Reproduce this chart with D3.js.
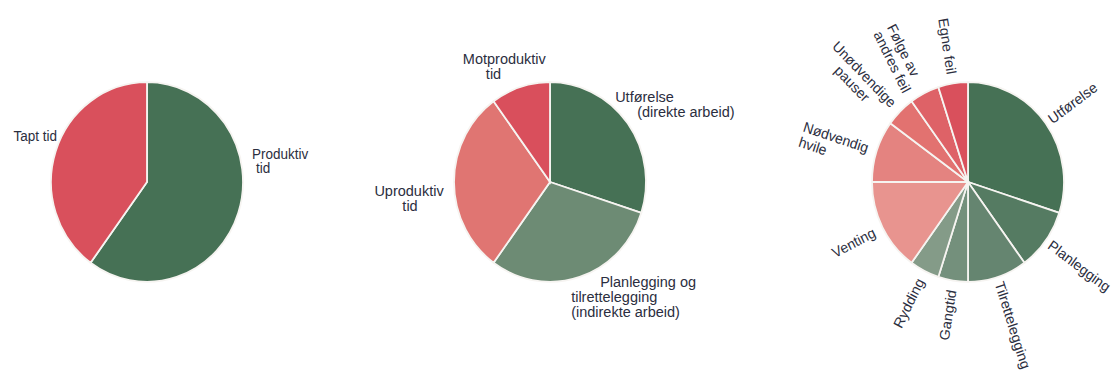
<!DOCTYPE html>
<html>
<head>
<meta charset="utf-8">
<script src="https://cdn.jsdelivr.net/npm/d3@7"></script>
<style>
body { margin: 0; background: #fff; }
text { font-family: "Liberation Sans", Arial, Helvetica, sans-serif; fill: #2b2e40; }
</style>
</head>
<body>
<svg id="chart" width="1113" height="382"></svg>
<script>
// chart 1: produktiv vs tapt tid
const tidCategories = ["Produktiv tid", "Tapt tid"];
const tidValues = [60, 40];
const tidLines = [["Produktiv", "tid"], ["Tapt tid"]];
const tidColors = ["#467155", "#d9505c"];

// chart 2: fire typer tid
const typeCategories = ["Utførelse (direkte arbeid)", "Planlegging og tilrettelegging (indirekte arbeid)", "Uproduktiv tid", "Motproduktiv tid"];
const typeValues = [30, 30, 30, 10];
const typeLines = [["Utførelse", "(direkte arbeid)"], ["Planlegging og", "tilrettelegging", "(indirekte arbeid)"], ["Uproduktiv", "tid"], ["Motproduktiv", "tid"]];
const typeColors = ["#467155", "#6d8b74", "#e07572", "#d94f5c"];

// chart 3: detaljert fordeling
const detailCategories = ["Utførelse", "Planlegging", "Tilrettelegging", "Gangtid", "Rydding", "Venting", "Nødvendig hvile", "Unødvendige pauser", "Følge av andres feil", "Egne feil"];
const detailValues = [30, 10, 10, 5, 5, 15, 10, 5, 5, 5];
const detailLines = [["Utførelse"], ["Planlegging"], ["Tilrettelegging"], ["Gangtid"], ["Rydding"], ["Venting"], ["Nødvendig", "hvile"], ["Unødvendige", "pauser"], ["Følge av", "andres feil"], ["Egne feil"]];
const detailColors = ["#467155", "#557b62", "#658570", "#74907c", "#849b88", "#e8948f", "#e48380", "#e27270", "#de6267", "#d9505c"];

const svg = d3.select("#chart");
const radius = 96, ky = 1.04;   // pies are a bit taller than wide in the original

const pie = d3.pie().sort(null).value(d => d);
const arc = d3.arc().innerRadius(0).outerRadius(radius);

function drawPie(values, colors, cx, cy) {
    const g = svg.append("g").attr("transform", `translate(${cx},${cy}) scale(1,${ky})`);
    const arcs = pie(values);
    g.selectAll("path").data(arcs).enter().append("path")
        .attr("d", arc)
        .attr("fill", (d, i) => colors[i])
        .attr("stroke", "#f6f4f1")
        .attr("stroke-width", 1.8)
        .attr("vector-effect", "non-scaling-stroke");
    return {g, arcs};
}

// flat labels placed near the slice's mid angle, then nudged (nudge in screen px)
function flatLabels(p, lines, opts) {
    const R = radius + 8;
    p.arcs.forEach((d, i) => {
        const a = (d.startAngle + d.endAngle) / 2;
        const x = R * Math.sin(a) + opts.nudge[i][0];
        const y = -R * Math.cos(a) + opts.nudge[i][1] / ky;
        const t = p.g.append("text")
            .attr("text-anchor", opts.anchor[i])
            .style("font-size", opts.size + "px");
        lines[i].forEach((line, j) => {
            t.append("tspan")
                .attr("x", x + (opts.indent[i][j] || 0))
                .attr("y", y + j * opts.lineH / ky)
                .text(line);
        });
    });
}

// radial labels, rotated along the slice's mid angle
function radialLabels(p, lines, opts) {
    p.arcs.forEach((d, i) => {
        const a = (d.startAngle + d.endAngle) / 2;
        const deg = a * 180 / Math.PI;
        const right = deg < 180;
        const R = radius + (right ? opts.gapRight : opts.gapLeft);
        const x = R * Math.sin(a);
        const y = -R * Math.cos(a);
        const rot = right ? deg - 90 : deg + 90;
        const t = p.g.append("text")
            .attr("transform", `translate(${x},${y}) rotate(${rot})`)
            .style("font-size", opts.size + "px");
        const spans = lines[i].map((line, j) => t.append("tspan")
            .attr("y", j * opts.lineH)
            .attr("dy", "0.35em")
            .text(line));
        const maxW = d3.max(spans, s => s.node().getComputedTextLength());
        const x0 = right ? 0 : -maxW;
        spans.forEach((s, j) => s.attr("x", x0 + ((opts.indent[i] || [])[j] || 0)));
    });
}

const pie1 = drawPie(tidValues, tidColors, 147, 182);
flatLabels(pie1, tidLines, {
    size: 13.5, lineH: 14,
    anchor: ["start", "end"],
    nudge: [[6, -56], [9, -8]],
    indent: [[0, 4], [0]]
});

const pie2 = drawPie(typeValues, typeColors, 550, 182);
flatLabels(pie2, typeLines, {
    size: 14.5, lineH: 15,
    anchor: ["start", "start", "middle", "start"],
    nudge: [[-19, -16], [-11, 2], [-37, 14], [-55, -15]],
    indent: [[0, 22], [29, 0, 0], [0, 1], [0, 23]]
});

const pie3 = drawPie(detailValues, detailColors, 968, 182);
radialLabels(pie3, detailLines, {
    size: 14, lineH: 15, gapRight: 5, gapLeft: 9,
    indent: [[], [], [], [], [], [], [], [0, 18], [], []]
});
</script>
</body>
</html>
